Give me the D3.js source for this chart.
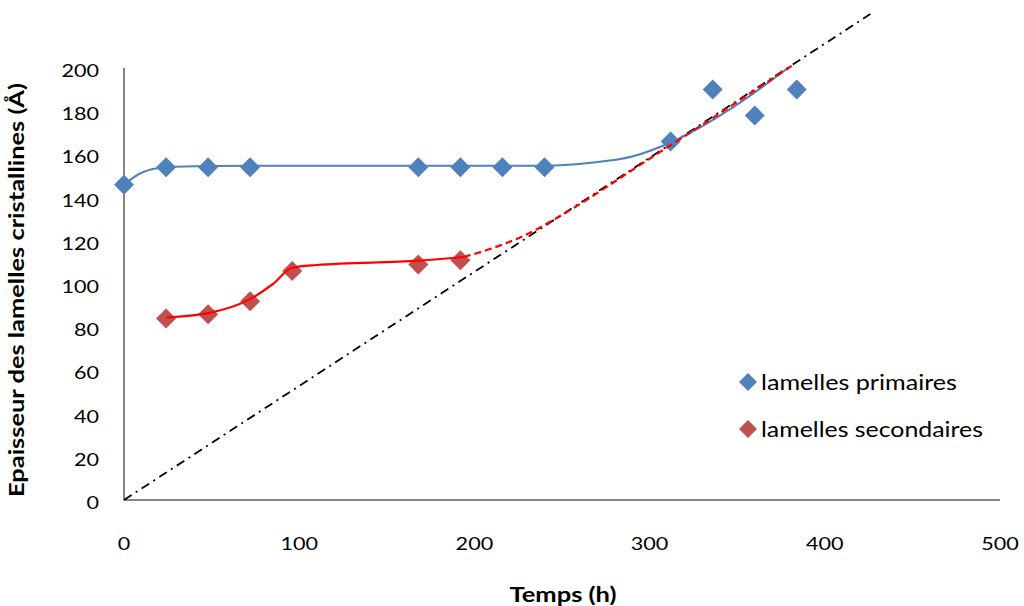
<!DOCTYPE html>
<html><head><meta charset="utf-8">
<script src="https://cdn.jsdelivr.net/npm/d3@7"></script>
<style>body{margin:0;background:#fff}svg{display:block}text{font-family:Lato,"Open Sans",sans-serif}</style>
</head><body><svg id="c" width="1024" height="606"></svg>
<script>
const xTicks = [0,100,200,300,400,500];
const yTicks = [0,20,40,60,80,100,120,140,160,180,200];
const primT = [0,24,48,72,168,192,216,240,312,336,360,384];
const primV = [146,154,154,154,154,154,154,154,166,190,178,190];
const secT = [24,48,72,96,168,192];
const secV = [84,86,92,106,109,111];
// trend curves
const primFitT = [0,10,24,48,100,240,265,290,312,348,379];
const primFitV = [146,151.5,154,154.6,154.8,154.8,156,159,165.5,182,200];
const secFitT = [24,48,72,85,96,110,168,194];
const secFitV = [84.5,86.5,93,100,107.5,108.8,110.8,112.5];
const secDashT = [194,210,230,250,300,340,383];
const secDashV = [112.5,116.5,123,132,158,179,202];
const diagT = [0,426];
const diagV = [0,225];
const legendLabels = ["lamelles primaires","lamelles secondaires"];

const svg = d3.select("#c");
const x = d3.scaleLinear().domain([0,500]).range([124,1000]);
const y = d3.scaleLinear().domain([0,200]).range([500,68]);
const axisColor = "#868686";

svg.append("line").attr("x1",x(0)).attr("x2",x(500)).attr("y1",y(0)).attr("y2",y(0)).attr("stroke",axisColor).attr("stroke-width",2);
svg.append("line").attr("x1",x(0)).attr("x2",x(0)).attr("y1",y(0)).attr("y2",y(200)).attr("stroke",axisColor).attr("stroke-width",2);

const sx = 1.2;
svg.selectAll(".xt").data(xTicks).enter().append("g")
  .attr("transform",d=>`translate(${x(d)},550) scale(${sx},1)`)
  .append("text").attr("text-anchor","middle").attr("font-size",18).attr("fill","#000").text(d=>d);
svg.selectAll(".yt").data(yTicks).enter().append("g")
  .attr("transform",d=>`translate(99,${y(d)+9}) scale(${sx},1)`)
  .append("text").attr("text-anchor","end").attr("font-size",18).attr("fill","#000").text(d=>d);

svg.append("text").attr("x",563).attr("y",602).attr("text-anchor","middle").attr("font-size",21).attr("font-weight","bold")
  .attr("textLength",107).attr("lengthAdjust","spacingAndGlyphs").text("Temps (h)");
svg.append("text").attr("transform","translate(24,290) rotate(-90)").attr("text-anchor","middle").attr("font-size",20.5).attr("font-weight","bold")
  .attr("textLength",414).attr("lengthAdjust","spacingAndGlyphs").text("Epaisseur des lamelles cristallines (Å)");

const dia = (rx,ry) => `M0,${-ry}L${rx},0L0,${ry}L${-rx},0Z`;
const zip = (a,b) => a.map((t,i)=>[t,b[i]]);
const line = d3.line().x(d=>x(d[0])).y(d=>y(d[1])).curve(d3.curveMonotoneX);

// diagonal
svg.append("path").datum(zip(diagT,diagV)).attr("d",d3.line().x(d=>x(d[0])).y(d=>y(d[1])))
  .attr("fill","none").attr("stroke","#000").attr("stroke-width",1.8).attr("stroke-dasharray","9,5,2,5");

// markers
svg.selectAll(".pm").data(zip(primT,primV)).enter().append("path")
  .attr("d",dia(10,10)).attr("transform",d=>`translate(${x(d[0])},${y(d[1])})`).attr("fill","#4F81BD");
svg.selectAll(".sm").data(zip(secT,secV)).enter().append("path")
  .attr("d",dia(10,10)).attr("transform",d=>`translate(${x(d[0])},${y(d[1])})`).attr("fill","#C0504D");

// trend lines
svg.append("path").datum(zip(primFitT,primFitV)).attr("d",line).attr("fill","none").attr("stroke","#4F81BD").attr("stroke-width",2);
svg.append("path").datum(zip(secFitT,secFitV)).attr("d",line).attr("fill","none").attr("stroke","#FF0000").attr("stroke-width",2.2);
svg.append("path").datum(zip(secDashT,secDashV)).attr("d",line).attr("fill","none").attr("stroke","#FF0000").attr("stroke-width",2.2).attr("stroke-dasharray","7,4");

// legend
const lg = svg.append("g");
const legendW = [196, 222];
legendLabels.forEach((lab,i)=>{
  const ly = 382 + i*47;
  lg.append("path").attr("d",dia(9,9)).attr("transform",`translate(748,${ly})`).attr("fill",i?"#C0504D":"#4F81BD");
  lg.append("text").attr("x",761).attr("y",ly+8).attr("font-size",21)
    .attr("textLength",legendW[i]).attr("lengthAdjust","spacingAndGlyphs").text(lab);
});
</script></body></html>
